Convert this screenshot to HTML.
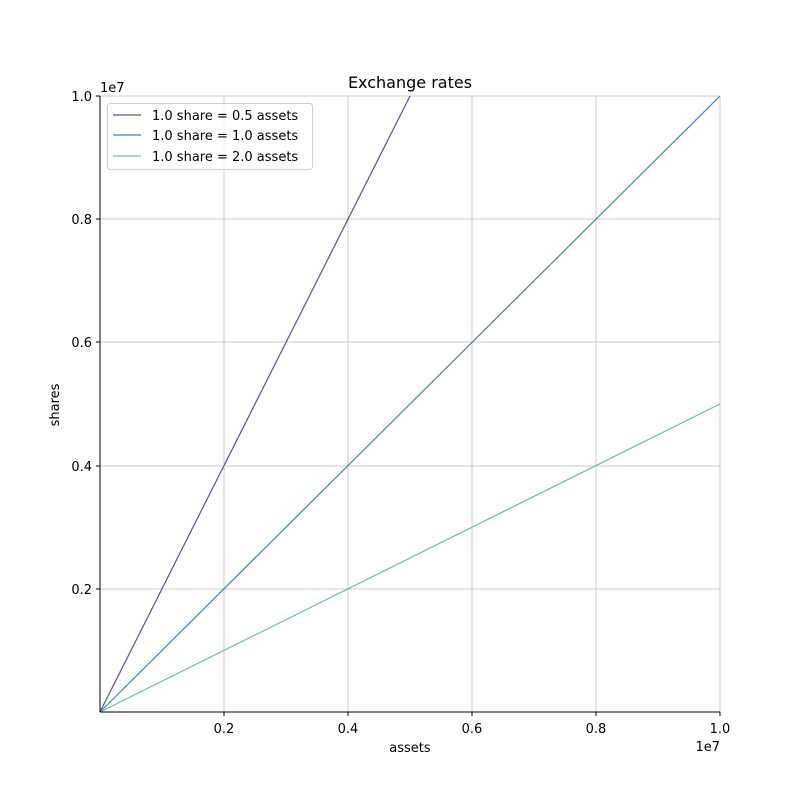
<!DOCTYPE html>
<html><head><style>body{margin:0;background:#fff}svg{display:block}</style></head><body>
<svg width="800" height="800" xmlns="http://www.w3.org/2000/svg" font-family="DejaVu Sans, Liberation Sans, sans-serif" font-size="13">
<rect width="800" height="800" fill="#fff"/>
<g stroke="#cccccc" stroke-width="1">
<line x1="224" y1="96" x2="224" y2="712"/><line x1="348" y1="96" x2="348" y2="712"/><line x1="472" y1="96" x2="472" y2="712"/><line x1="596" y1="96" x2="596" y2="712"/><line x1="720" y1="96" x2="720" y2="712"/>
<line x1="100" y1="589" x2="720" y2="589"/><line x1="100" y1="466" x2="720" y2="466"/><line x1="100" y1="342" x2="720" y2="342"/><line x1="100" y1="219" x2="720" y2="219"/><line x1="100" y1="96" x2="720" y2="96"/>
</g>
<line x1="100" y1="712" x2="410" y2="96" stroke="#5e4fa2" stroke-width="1.2"/>
<line x1="100" y1="712" x2="720" y2="96" stroke="#3288bd" stroke-width="1.2"/>
<line x1="100" y1="712" x2="720" y2="404" stroke="#66c2a5" stroke-width="1.2"/>
<line x1="100" y1="96" x2="100" y2="712" stroke="#000"/>
<line x1="100" y1="712" x2="720" y2="712" stroke="#000"/>
<g stroke="#000">
<line x1="224" y1="712" x2="224" y2="716"/><line x1="348" y1="712" x2="348" y2="716"/><line x1="472" y1="712" x2="472" y2="716"/><line x1="596" y1="712" x2="596" y2="716"/><line x1="720" y1="712" x2="720" y2="716"/>
<line x1="96" y1="589" x2="100" y2="589"/><line x1="96" y1="466" x2="100" y2="466"/><line x1="96" y1="342" x2="100" y2="342"/><line x1="96" y1="219" x2="100" y2="219"/><line x1="96" y1="96" x2="100" y2="96"/>
</g>
<g text-anchor="middle" fill="#000">
<text x="224" y="733">0.2</text><text x="348" y="733">0.4</text><text x="472" y="733">0.6</text><text x="596" y="733">0.8</text><text x="720" y="733">1.0</text>
<text x="410" y="752">assets</text>
<text x="410" y="88" font-size="16">Exchange rates</text>
</g>
<text x="720" y="751" text-anchor="end">1e7</text>
<text x="100" y="92">1e7</text>
<g text-anchor="end">
<text x="92" y="594">0.2</text><text x="92" y="471">0.4</text><text x="92" y="347">0.6</text><text x="92" y="224">0.8</text><text x="92" y="101">1.0</text>
</g>
<text transform="translate(59,405) rotate(-90)" text-anchor="middle">shares</text>
<rect x="107.5" y="103.5" width="205" height="66" rx="3" fill="#fff" fill-opacity="0.8" stroke="#d0d0d0"/>
<line x1="113" y1="115" x2="141" y2="115" stroke="#5e4fa2" stroke-width="1.2"/>
<line x1="113" y1="135" x2="141" y2="135" stroke="#3288bd" stroke-width="1.2"/>
<line x1="113" y1="156" x2="141" y2="156" stroke="#66c2a5" stroke-width="1.2"/>
<text x="152" y="120">1.0 share = 0.5 assets</text>
<text x="152" y="140">1.0 share = 1.0 assets</text>
<text x="152" y="161">1.0 share = 2.0 assets</text>
</svg>
</body></html>
